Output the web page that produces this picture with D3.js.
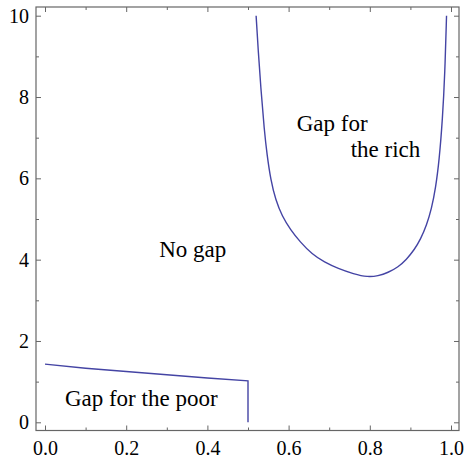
<!DOCTYPE html>
<html lang="en">
<head>
<meta charset="utf-8">
<title>Gap regions</title>
<script src="https://d3js.org/d3.v7.min.js"></script>
<style>
  body { margin: 0; background: #fff; }
  .tick text { font-family: "Liberation Serif", "Times New Roman", Times, "DejaVu Serif", serif; font-size: 20px; fill: #000; }
  .tick line { stroke: #666; }
  .lbl { font-family: "Liberation Serif", "Times New Roman", Times, "DejaVu Serif", serif; font-size: 23px; fill: #000; }
</style>
</head>
<body>
<script>
// boundary between "gap for the poor" and "no gap"
var poorX = [0, 0.1, 0.2, 0.3, 0.4, 0.5, 0.5];
var poorY = [1.43, 1.33, 1.25, 1.17, 1.09, 1.02, 0];

// boundary of "gap for the rich" region
var richX = [0.520, 0.525, 0.532, 0.540, 0.547, 0.556, 0.568, 0.584, 0.605, 0.628, 0.658, 0.688, 0.722, 0.76, 0.795, 0.82, 0.845, 0.87, 0.89, 0.91, 0.925, 0.94, 0.952, 0.962, 0.971, 0.979, 0.985, 0.989];
var richY = [10.0, 9.16, 8.17, 7.19, 6.57, 5.96, 5.47, 5.07, 4.73, 4.44, 4.13, 3.94, 3.78, 3.65, 3.57, 3.60, 3.68, 3.82, 4.00, 4.25, 4.50, 4.85, 5.25, 5.75, 6.45, 7.44, 8.6, 10.0];

var xTicks = [0, 0.2, 0.4, 0.6, 0.8, 1.0];
var xMinor = [0.1, 0.3, 0.5, 0.7, 0.9];
var yTicks = [0, 2, 4, 6, 8, 10];
var yMinor = [1, 3, 5, 7, 9];

var labels = ["No gap", "Gap for the poor", "Gap for", "the rich"];
var labelX = [0.364, 0.237, 0.620, 0.753];
var labelY = [4.07, 0.40, 7.17, 6.53];
var labelAnchor = ["middle", "middle", "start", "start"];

var W = 467, H = 461;
var frame = {left: 36, right: 459, top: 7, bottom: 430.5};

var x = d3.scaleLinear().domain([0, 1]).range([45, 451]);
var y = d3.scaleLinear().domain([0, 10]).range([422.3, 15.7]);

var svg = d3.select("body").append("svg")
    .attr("width", W)
    .attr("height", H);

// ticks (inward), major + minor on all four sides
function addAxis(axisFn, scale, vals, size, fmt, pad, transform) {
  var g = svg.append("g")
      .attr("transform", transform)
      .call(axisFn(scale).tickValues(vals).tickSize(size).tickPadding(pad).tickFormat(fmt));
  g.select(".domain").remove();
  return g;
}
var none = function() { return ""; };

addAxis(d3.axisBottom, x, xTicks, -5, d3.format(".1f"), 10, "translate(0," + frame.bottom + ")");
addAxis(d3.axisBottom, x, xMinor, -3, none, 0, "translate(0," + frame.bottom + ")");
addAxis(d3.axisTop, x, xTicks, -5, none, 0, "translate(0," + frame.top + ")");
addAxis(d3.axisTop, x, xMinor, -3, none, 0, "translate(0," + frame.top + ")");
addAxis(d3.axisLeft, y, yTicks, -5, d3.format("d"), 7, "translate(" + frame.left + ",0)");
addAxis(d3.axisLeft, y, yMinor, -3, none, 0, "translate(" + frame.left + ",0)");
addAxis(d3.axisRight, y, yTicks, -5, none, 0, "translate(" + frame.right + ",0)");
addAxis(d3.axisRight, y, yMinor, -3, none, 0, "translate(" + frame.right + ",0)");

svg.append("rect")
    .attr("x", frame.left)
    .attr("y", frame.top)
    .attr("width", frame.right - frame.left)
    .attr("height", frame.bottom - frame.top)
    .attr("fill", "none")
    .attr("stroke", "#666")
    .attr("stroke-width", 1.2);

// curves
var poor = poorX.map(function(d, i) { return [d, poorY[i]]; });
var rich = richX.map(function(d, i) { return [d, richY[i]]; });

svg.append("path")
    .datum(poor)
    .attr("fill", "none")
    .attr("stroke", "#4444a4")
    .attr("stroke-width", 1.4)
    .attr("d", d3.line()
      .x(function(d) { return x(d[0]); })
      .y(function(d) { return y(d[1]); }));

svg.append("path")
    .datum(rich)
    .attr("fill", "none")
    .attr("stroke", "#4444a4")
    .attr("stroke-width", 1.4)
    .attr("d", d3.line()
      .curve(d3.curveBasis)
      .x(function(d) { return x(d[0]); })
      .y(function(d) { return y(d[1]); }));

// region labels
svg.selectAll(".lbl")
    .data(labels)
    .enter().append("text")
    .attr("class", "lbl")
    .attr("x", function(d, i) { return x(labelX[i]); })
    .attr("y", function(d, i) { return y(labelY[i]); })
    .attr("text-anchor", function(d, i) { return labelAnchor[i]; })
    .text(function(d) { return d; });
</script>
</body>
</html>
